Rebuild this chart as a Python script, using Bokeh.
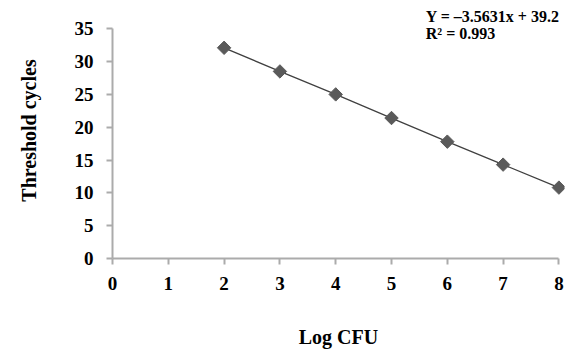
import math
from bokeh.plotting import figure
from bokeh.models import Range1d, Label, FixedTicker
from bokeh.embed import file_html
from bokeh.resources import INLINE

log_cfu = [2, 3, 4, 5, 6, 7, 8]
threshold_cycles = [32.1, 28.5, 25.0, 21.4, 17.8, 14.3, 10.8]
x_ticks = [0, 1, 2, 3, 4, 5, 6, 7, 8]
y_ticks = [0, 5, 10, 15, 20, 25, 30, 35]
equation = "Y = \u20133.5631x + 39.2"
r2_text = "R\u00b2 = 0.993"

FONT = "Liberation Serif"
AXIS_COLOR = "#ababab"

p = figure(width=567, height=352, output_backend="svg", toolbar_location=None,
           x_range=Range1d(0, 8.1), y_range=Range1d(0, 39))
p.min_border_left = 112
p.min_border_right = 3
p.min_border_top = 2
p.min_border_bottom = 94
p.outline_line_color = None
p.grid.grid_line_color = None
p.background_fill_color = "white"
p.border_fill_color = "white"

p.line(log_cfu, threshold_cycles, line_color="#404040", line_width=1.3)
p.scatter(log_cfu, threshold_cycles, marker="square", angle=math.pi / 4, size=9.5,
          fill_color="#5a5a5a", line_color="#5a5a5a")

for ax in (p.xaxis[0], p.yaxis[0]):
    ax.axis_line_color = AXIS_COLOR
    ax.axis_line_width = 2
    ax.major_tick_line_color = AXIS_COLOR
    ax.major_tick_line_width = 2
    ax.major_tick_in = 0
    ax.major_tick_out = 6
    ax.minor_tick_line_color = None
    ax.major_label_text_font = FONT
    ax.major_label_text_font_style = "bold"
    ax.major_label_text_font_size = "19px"
    ax.major_label_text_color = "black"
    ax.axis_label_text_font = FONT
    ax.axis_label_text_font_style = "bold"
    ax.axis_label_text_font_size = "20px"
    ax.axis_label_text_color = "black"

p.xaxis[0].ticker = FixedTicker(ticks=x_ticks)
p.yaxis[0].ticker = FixedTicker(ticks=y_ticks)
p.xaxis[0].bounds = (0, 8)
p.yaxis[0].bounds = (0, 35)
p.xaxis[0].major_label_standoff = 12
p.yaxis[0].major_label_standoff = 13
p.xaxis[0].axis_label = "Log CFU"
p.yaxis[0].axis_label = "Threshold cycles"
p.xaxis[0].axis_label_standoff = 33
p.yaxis[0].axis_label_standoff = 32

p.add_layout(Label(x=5.614, y=36.8, text=equation, text_font=FONT,
                   text_font_style="bold", text_font_size="16px",
                   text_baseline="middle", text_color="black"))
p.add_layout(Label(x=5.614, y=34.3, text=r2_text, text_font=FONT,
                   text_font_style="bold", text_font_size="16px",
                   text_baseline="middle", text_color="black"))

open("out.html", "w").write(file_html(p, INLINE))
